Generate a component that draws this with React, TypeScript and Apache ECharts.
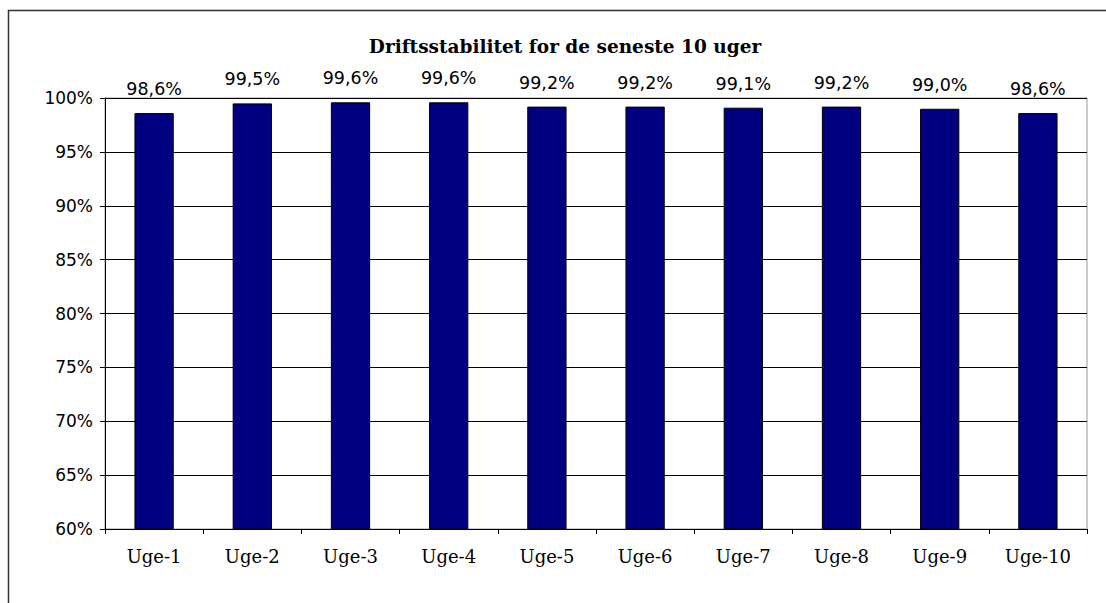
import React, { useEffect, useRef } from "react";
import * as echarts from "echarts";

const categories = ["Uge-1", "Uge-2", "Uge-3", "Uge-4", "Uge-5", "Uge-6", "Uge-7", "Uge-8", "Uge-9", "Uge-10"];
const values = [98.6, 99.5, 99.6, 99.6, 99.2, 99.2, 99.1, 99.2, 99.0, 98.6];
const title = "Driftsstabilitet for de seneste 10 uger";

export default function App() {
  const ref = useRef<HTMLDivElement>(null);
  useEffect(() => {
    if (!ref.current) return;
    const chart = echarts.init(ref.current, null, { renderer: "svg" });
    chart.setOption({
      animation: false,
      backgroundColor: "#ffffff",
      title: {
        text: title,
        left: 560,
        textAlign: "center",
        top: 32,
        textStyle: { fontFamily: "DejaVu Serif", fontWeight: "bold", fontSize: 18.5, color: "#000" },
      },
      graphic: [
        {
          type: "rect",
          shape: { x: 8.5, y: 10.5, width: 1200, height: 700 },
          style: { fill: "none", stroke: "#333", lineWidth: 1.5 },
          silent: true,
        },
      ],
      grid: {
        left: 105,
        right: 19,
        top: 98,
        bottom: 74,
        show: true,
        borderColor: "#999",
        borderWidth: 1,
        containLabel: false,
      },
      xAxis: {
        type: "category",
        data: categories,
        boundaryGap: true,
        axisLine: { lineStyle: { color: "#000", width: 1 } },
        axisTick: { show: true, length: 5, lineStyle: { color: "#000" } },
        axisLabel: { margin: 18, fontFamily: "DejaVu Serif", fontSize: 18, color: "#000" },
      },
      yAxis: {
        type: "value",
        min: 60,
        max: 100,
        interval: 5,
        axisLine: { show: true, lineStyle: { color: "#000", width: 1 } },
        axisTick: { show: true, length: 5, lineStyle: { color: "#000" } },
        splitLine: { show: true, lineStyle: { color: "#000", width: 1 } },
        axisLabel: {
          margin: 12,
          formatter: "{value}%",
          fontFamily: "DejaVu Sans",
          fontSize: 17,
          color: "#000",
        },
      },
      series: [
        {
          type: "bar",
          data: values,
          barWidth: "40%",
          itemStyle: { color: "#000080", borderColor: "#000", borderWidth: 1 },
          label: {
            show: true,
            position: "top",
            distance: 15,
            formatter: (p: any) => p.value.toFixed(1).replace(".", ",") + "%",
            fontFamily: "DejaVu Sans",
            fontSize: 17.5,
            color: "#000",
          },
        },
      ],
    });
    return () => chart.dispose();
  }, []);
  return (
    <div
      ref={ref}
      style={{ position: "fixed", left: 0, top: 0, width: 1106, height: 603 }}
    />
  );
}
